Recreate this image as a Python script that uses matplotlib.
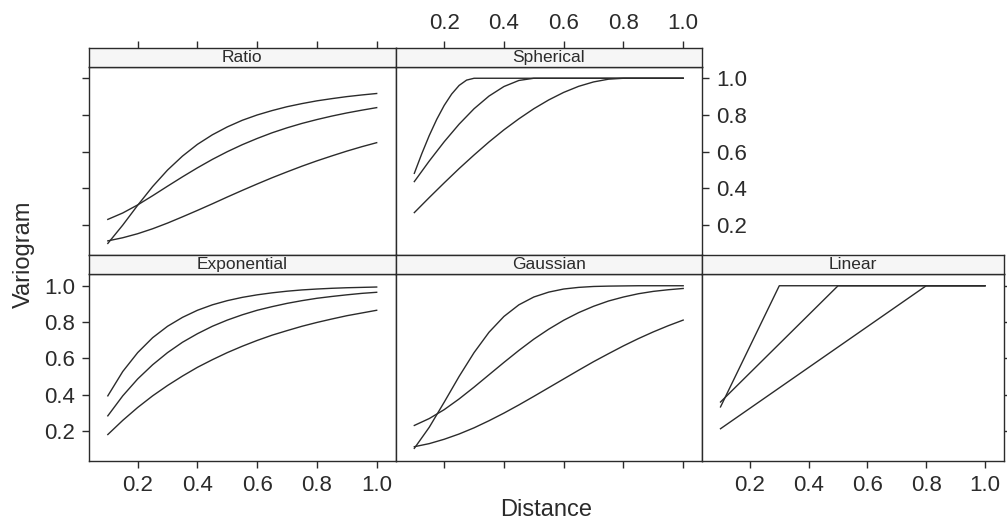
import matplotlib.pyplot as plt

plt.rcParams['font.family'] = ['Liberation Sans', 'DejaVu Sans']

# distances for the smooth models
dist = [0.10, 0.15, 0.20, 0.25, 0.30, 0.35, 0.40, 0.45, 0.50, 0.55,
        0.60, 0.65, 0.70, 0.75, 0.80, 0.85, 0.90, 0.95, 1.00]

ratio_1 = [0.100, 0.200, 0.308, 0.410, 0.500, 0.576, 0.640, 0.692, 0.735, 0.771,
           0.800, 0.824, 0.845, 0.862, 0.877, 0.889, 0.900, 0.909, 0.917]
ratio_2 = [0.231, 0.266, 0.310, 0.360, 0.412, 0.463, 0.512, 0.558, 0.600, 0.638,
           0.672, 0.703, 0.730, 0.754, 0.775, 0.794, 0.811, 0.826, 0.840]
ratio_3 = [0.114, 0.131, 0.153, 0.180, 0.211, 0.245, 0.280, 0.316, 0.353, 0.389,
           0.424, 0.458, 0.490, 0.521, 0.550, 0.577, 0.603, 0.627, 0.649]

expo_1 = [0.394, 0.528, 0.632, 0.714, 0.777, 0.826, 0.865, 0.895, 0.918, 0.936,
          0.950, 0.961, 0.970, 0.977, 0.982, 0.986, 0.989, 0.991, 0.993]
expo_2 = [0.284, 0.394, 0.487, 0.565, 0.632, 0.689, 0.736, 0.777, 0.811, 0.840,
          0.865, 0.885, 0.903, 0.918, 0.931, 0.941, 0.950, 0.958, 0.964]
expo_3 = [0.181, 0.259, 0.330, 0.394, 0.451, 0.503, 0.551, 0.593, 0.632, 0.667,
          0.699, 0.728, 0.753, 0.777, 0.798, 0.817, 0.835, 0.850, 0.865]

gaus_1 = [0.105, 0.221, 0.359, 0.501, 0.632, 0.744, 0.831, 0.895, 0.938, 0.965,
          0.982, 0.991, 0.996, 0.998, 0.999, 1.000, 1.000, 1.000, 1.000]
gaus_2 = [0.231, 0.269, 0.318, 0.377, 0.442, 0.510, 0.578, 0.644, 0.706, 0.761,
          0.810, 0.852, 0.887, 0.916, 0.938, 0.956, 0.969, 0.978, 0.985]
gaus_3 = [0.114, 0.131, 0.155, 0.184, 0.218, 0.257, 0.299, 0.344, 0.391, 0.439,
          0.487, 0.535, 0.582, 0.626, 0.669, 0.709, 0.746, 0.780, 0.811]

sph_x_1 = [0.100, 0.125, 0.150, 0.175, 0.200, 0.225, 0.250, 0.275, 0.300, 1.000]
sph_1 = [0.482, 0.589, 0.688, 0.776, 0.852, 0.914, 0.961, 0.990, 1.000, 1.000]
sph_x_2 = [0.10, 0.15, 0.20, 0.25, 0.30, 0.35, 0.40, 0.45, 0.50, 1.00]
sph_2 = [0.437, 0.549, 0.654, 0.750, 0.834, 0.903, 0.955, 0.988, 1.000, 1.000]
sph_x_3 = [0.10, 0.15, 0.20, 0.25, 0.30, 0.35, 0.40, 0.45, 0.50, 0.55,
           0.60, 0.65, 0.70, 0.75, 0.80, 1.00]
sph_3 = [0.268, 0.350, 0.430, 0.508, 0.582, 0.653, 0.719, 0.779, 0.834, 0.882,
         0.923, 0.956, 0.980, 0.995, 1.000, 1.000]

lin_x_1 = [0.10, 0.30, 1.00]
lin_1 = [0.333, 1.000, 1.000]
lin_x_2 = [0.10, 0.50, 1.00]
lin_2 = [0.360, 1.000, 1.000]
lin_x_3 = [0.10, 0.80, 1.00]
lin_3 = [0.213, 1.000, 1.000]

ticks = [0.2, 0.4, 0.6, 0.8, 1.0]
tick_labels = ['0.2', '0.4', '0.6', '0.8', '1.0']

ink = '#2b2b2b'
W, H = 1007, 523
fig = plt.figure(figsize=(W / 100, H / 100), dpi=100)

col_x = [89, 395.5, 702]
col_w = [306.5, 306.5, 301.5]
# strip top, strip bottom, panel bottom (pixels from the top)
row_y = [(47.7, 66.7, 255.0), (255.0, 274.3, 460.7)]


def px_rect(x0, y0, x1, y1):
    return [x0 / W, 1 - y1 / H, (x1 - x0) / W, (y1 - y0) / H]


def draw_panel(row, col, name, curves, left=None, right=None, top=None, bottom=None):
    # None = no ticks, False = ticks only, True = ticks and labels
    x0 = col_x[col]
    x1 = x0 + col_w[col]
    s_top, s_bot, p_bot = row_y[row]
    ax = fig.add_axes(px_rect(x0, s_bot, x1, p_bot))
    st = fig.add_axes(px_rect(x0, s_top, x1, s_bot), sharex=ax)

    for xs, ys in curves:
        ax.plot(xs, ys, color=ink, linewidth=1.0)

    ax.set_xlim(0.037, 1.063)
    ax.set_ylim(0.037, 1.063)
    ax.set_xticks(ticks)
    ax.set_yticks(ticks)
    ax.set_xticklabels(tick_labels)
    ax.set_yticklabels(tick_labels)
    ax.tick_params(direction='out', length=5, width=1, color=ink, labelcolor=ink,
                   labelsize=16, pad=5,
                   left=left is not None, labelleft=bool(left),
                   right=right is not None, labelright=bool(right),
                   bottom=bottom is not None, labelbottom=bool(bottom),
                   top=False, labeltop=False)

    st.set_facecolor('#f6f6f6')
    st.set_ylim(0, 1)
    st.set_yticks([])
    st.tick_params(axis='x', direction='out', length=5, width=1, color=ink,
                   labelcolor=ink, labelsize=16, pad=5,
                   bottom=False, labelbottom=False,
                   top=top is not None, labeltop=bool(top))
    st.text(0.5, 0.5, name, transform=st.transAxes, ha='center', va='center',
            fontsize=12.5, color=ink)

    for a in (ax, st):
        for sp in a.spines.values():
            sp.set_color(ink)
            sp.set_linewidth(1.0)
    return ax


draw_panel(0, 0, 'Ratio',
           [(dist, ratio_1), (dist, ratio_2), (dist, ratio_3)],
           left=False, top=False)
draw_panel(0, 1, 'Spherical',
           [(sph_x_1, sph_1), (sph_x_2, sph_2), (sph_x_3, sph_3)],
           right=True, top=True)
draw_panel(1, 0, 'Exponential',
           [(dist, expo_1), (dist, expo_2), (dist, expo_3)],
           left=True, bottom=True)
draw_panel(1, 1, 'Gaussian',
           [(dist, gaus_1), (dist, gaus_2), (dist, gaus_3)],
           bottom=False)
draw_panel(1, 2, 'Linear',
           [(lin_x_1, lin_1), (lin_x_2, lin_2), (lin_x_3, lin_3)],
           right=False, bottom=True)

fig.text(24 / W, 1 - 254 / H, 'Variogram', rotation=90, ha='center', va='center',
         fontsize=17, color=ink)
fig.text(546 / W, 1 - 510 / H, 'Distance', ha='center', va='center',
         fontsize=17, color=ink)

fig.savefig('out.png', dpi=100)
